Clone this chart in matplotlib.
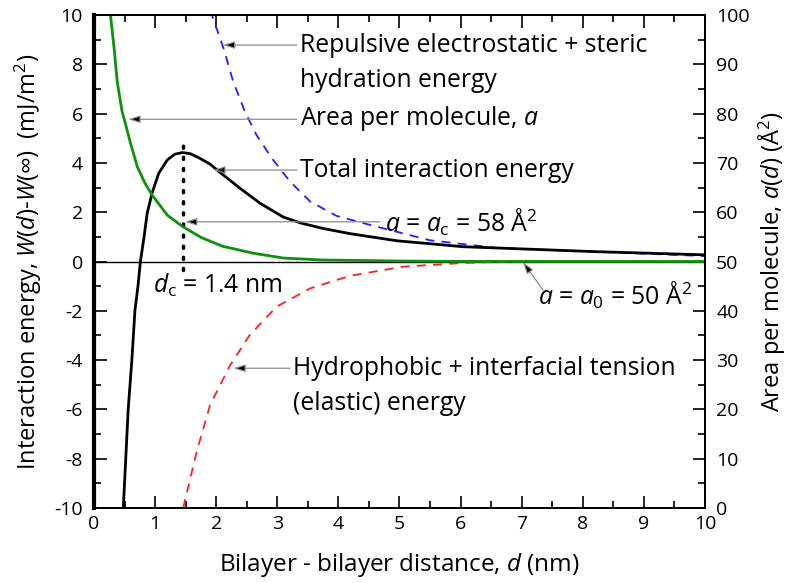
import matplotlib
matplotlib.use('Agg')
import matplotlib.pyplot as plt
from matplotlib.ticker import MultipleLocator


# ---- values --------------------------------------------------------------
# total interaction energy (black), d in nm, W in mJ/m^2
total_d = [0.48, 0.52, 0.56, 0.62, 0.67, 0.72, 0.76, 0.82, 0.87, 0.95, 1.06,
           1.2, 1.32, 1.45, 1.58, 1.73, 1.9, 2.06, 2.39, 2.72, 3.1, 3.4,
           3.75, 4.19, 4.96, 6.04, 8.2, 10.0]
total_w = [-10.0, -8.0, -6.0, -4.0, -2.0, -1.0, 0.0, 1.0, 1.95, 2.77, 3.58,
           4.12, 4.35, 4.42, 4.37, 4.19, 3.95, 3.62, 2.97, 2.36, 1.8, 1.55,
           1.34, 1.13, 0.84, 0.6, 0.4, 0.27]

# repulsive electrostatic + steric hydration (blue dashed)
rep_d = [1.9, 1.93, 2.12, 2.28, 2.47, 2.66, 2.91, 3.21, 3.54, 3.97, 4.57,
         5.5, 6.6, 8.2, 10.0]
rep_w = [10.2, 10.0, 8.65, 7.29, 6.08, 5.13, 4.19, 3.24, 2.43, 1.85, 1.45,
         0.86, 0.55, 0.4, 0.22]
# short blue piece drawn along the left spine in the original
rep_edge_d = [0.01, 0.01]
rep_edge_w = [7.8, 10.0]

# hydrophobic + interfacial tension (red dashed)
hyd_d = [1.46, 1.68, 1.9, 2.23, 2.55, 2.99, 3.54, 4.19, 5.06, 6.04, 6.8, 10.0]
hyd_w = [-10.0, -7.72, -5.82, -4.2, -2.98, -1.83, -1.09, -0.58, -0.21,
         -0.06, 0.0, 0.0]

# area per molecule (green, right axis, A^2)
area_d = [0.22, 0.27, 0.33, 0.38, 0.46, 0.52, 0.6, 0.71, 0.83, 0.95, 1.2,
          1.45, 1.75, 2.1, 2.6, 3.1, 3.75, 5.0, 6.0, 10.0]
area_a = [106.0, 100.0, 93.2, 86.5, 80.4, 77.7, 73.9, 69.2, 66.0, 63.5, 59.4,
          57.1, 54.9, 53.1, 51.7, 50.7, 50.3, 50.1, 50.02, 50.0]

# critical distance marker
dc_line = 1.45
dc_w = [-0.35, 4.86]

FONT = 'Open Sans'


def arrow(ax, tip, start):
    ax.annotate('', xy=tip, xytext=start,
                arrowprops=dict(arrowstyle='-|>,head_length=0.7,head_width=0.22',
                                fc='black', ec='#8a8a8a', lw=0.9,
                                shrinkA=0, shrinkB=0))


def main():
    plt.rcParams['font.family'] = [FONT, 'DejaVu Sans']
    plt.rcParams['mathtext.fontset'] = 'custom'
    plt.rcParams['mathtext.rm'] = FONT
    plt.rcParams['mathtext.it'] = FONT + ':italic'
    plt.rcParams['mathtext.bf'] = FONT + ':bold'
    plt.rcParams['axes.unicode_minus'] = False

    fig = plt.figure(figsize=(7.91, 5.83), dpi=100)
    ax = fig.add_axes([0.1188, 0.1286, 0.7725, 0.8457])
    ax2 = ax.twinx()

    ax.axhline(0, color='black', lw=1.0, zorder=1)
    ax.plot(rep_d, rep_w, color='#1f1fff', lw=1.3, dashes=(5, 4), zorder=2)
    ax.plot(rep_edge_d, rep_edge_w, color='#1f1fff', lw=1.3, dashes=(5, 4), zorder=2)
    ax.plot(hyd_d, hyd_w, color='#ff2020', lw=1.3, dashes=(5, 4), zorder=2)
    ax.plot(total_d, total_w, color='black', lw=2.0, zorder=3)
    ax.plot([dc_line, dc_line], dc_w, color='black', lw=2.5,
            linestyle=(0, (0.6, 2.6)), dash_capstyle='round', zorder=3)
    ax2.plot(area_d, area_a, color='#0f900f', lw=2.0)

    ax.set_xlim(0, 10)
    ax.set_ylim(-10, 10)
    ax2.set_ylim(0, 100)

    ax.xaxis.set_major_locator(MultipleLocator(1))
    ax.xaxis.set_minor_locator(MultipleLocator(0.5))
    ax.yaxis.set_major_locator(MultipleLocator(2))
    ax.yaxis.set_minor_locator(MultipleLocator(1))
    ax2.yaxis.set_major_locator(MultipleLocator(10))
    ax2.yaxis.set_minor_locator(MultipleLocator(5))

    for a in (ax, ax2):
        a.tick_params(which='major', direction='in', length=9, width=1.2,
                      labelsize=14, pad=8)
        a.tick_params(which='minor', direction='in', length=5, width=1.2)
        for s in a.spines.values():
            s.set_linewidth(1.3)
    ax.tick_params(which='both', top=True)
    ax.tick_params(axis='x', which='major', pad=5)
    ax.spines['left'].set_linewidth(3.0)

    ax.set_xlabel('Bilayer - bilayer distance, $\\mathit{d}$ (nm)',
                  fontsize=17.5, labelpad=13)
    ax.set_ylabel('Interaction energy, $\\mathit{W}$($\\mathit{d}$)-$\\mathit{W}$($\\infty$)  (mJ/m$^2$)',
                  fontsize=17, labelpad=7.5)
    ax2.set_ylabel('Area per molecule, $\\mathit{a}$($\\mathit{d}$) (Å$^2$)',
                   fontsize=17, rotation=90, labelpad=5)

    fs = 17.8
    ax.text(3.37, 8.78, 'Repulsive electrostatic + steric', fontsize=fs, va='center')
    ax.text(3.37, 7.36, 'hydration energy', fontsize=fs, va='center')
    ax.text(3.37, 5.82, 'Area per molecule, $\\mathit{a}$', fontsize=fs, va='center')
    ax.text(3.37, 3.71, 'Total interaction energy', fontsize=fs, va='center')
    ax.text(4.76, 1.6, '$\\mathit{a}$ = $\\mathit{a}_{\\mathrm{c}}$ = 58 Å$^2$',
            fontsize=fs, va='center')
    ax.text(0.97, -0.95, '$\\mathit{d}_{\\mathrm{c}}$ = 1.4 nm', fontsize=fs, va='center')
    ax.text(7.27, -1.36, '$\\mathit{a}$ = $\\mathit{a}_0$ = 50 Å$^2$',
            fontsize=fs, va='center')
    ax.text(3.26, -4.32, 'Hydrophobic + interfacial tension', fontsize=fs, va='center')
    ax.text(3.26, -5.78, '(elastic) energy', fontsize=fs, va='center')

    arrow(ax, (2.11, 8.78), (3.32, 8.78))
    arrow(ax, (0.56, 5.77), (3.32, 5.77))
    arrow(ax, (1.95, 3.71), (3.32, 3.71))
    arrow(ax, (1.49, 1.61), (4.68, 1.61))
    arrow(ax, (7.02, -0.02), (7.35, -1.16))
    arrow(ax, (2.28, -4.33), (3.21, -4.33))

    fig.savefig('out.png', dpi=100)


if __name__ == '__main__':
    main()
